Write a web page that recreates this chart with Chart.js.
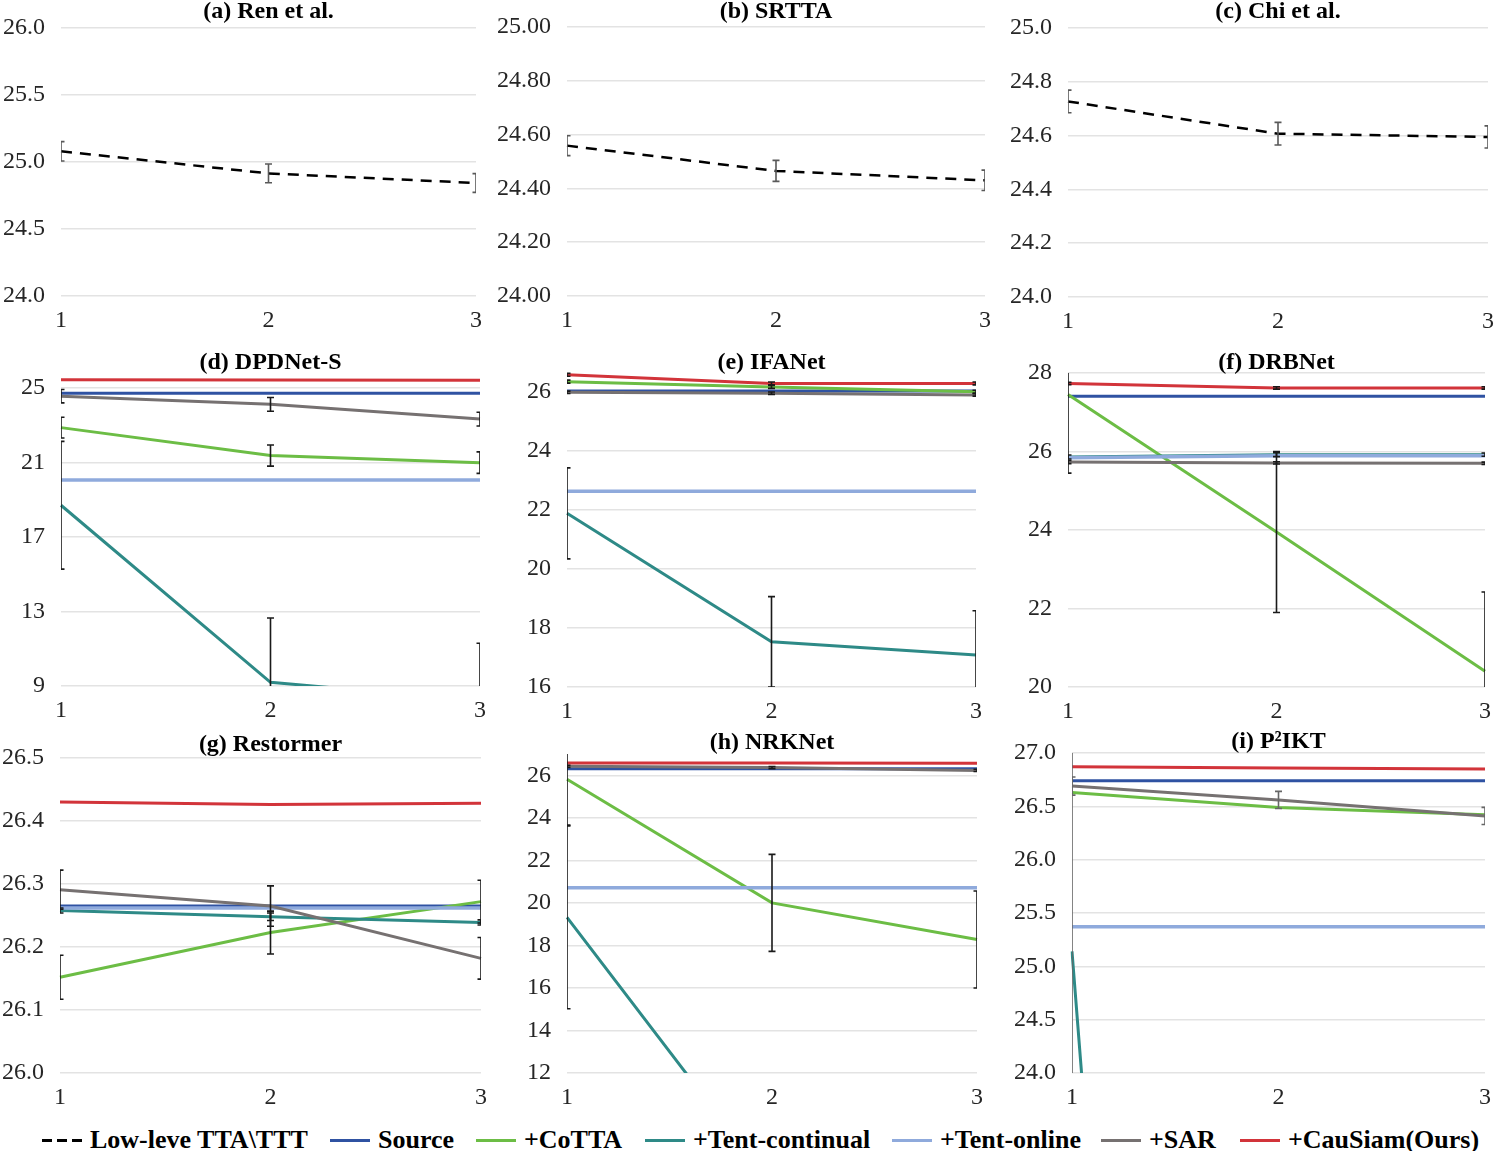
<!DOCTYPE html>
<html>
<head>
<meta charset="utf-8">
<script src="https://cdn.jsdelivr.net/npm/chart.js@4.4.1/dist/chart.umd.min.js"></script>
<style>
  body { margin: 0; background: #fff; width: 1494px; height: 1151px; position: relative; overflow: hidden;
         font-family: "Liberation Serif", "Times New Roman", serif; }
  canvas { position: absolute; }
  .key { position: absolute; top: 1127px; height: 26px; line-height: 26px; font-size: 26px; font-weight: bold;
         white-space: nowrap; color: #000; }
  .swatch { position: absolute; top: 1139px; width: 40px; height: 3px; }
</style>
</head>
<body>
<script>
const steps = ['1', '2', '3'];

// (a)-(c) low-level TTA\TTT methods: mean and error over the 3 rounds
const renMean = [25.08, 24.915, 24.843];
const renErr = [0.072, 0.07, 0.07];
const srttaMean = [24.559, 24.465, 24.43];
const srttaErr = [0.037, 0.039, 0.038];
const chiMean = [24.727, 24.607, 24.595];
const chiErr = [0.042, 0.042, 0.041];

// backbone panels, one row per series (same order as seriesNames)
const seriesNames = ['Source', '+CoTTA', '+Tent-continual', '+Tent-online', '+SAR', '+CauSiam(Ours)'];
const seriesColors = ['#2F52A2', '#6CBD45', '#2E8A87', '#8FAADC', '#767171', '#D2343A'];

const dpdnetMean = [
  [24.73, 24.73, 24.73],
  [22.88, 21.38, 21.0],
  [18.71, 9.2, 8.2],
  [20.07, 20.07, 20.07],
  [24.57, 24.13, 23.34],
  [25.45, 25.44, 25.43]
];
const dpdnetErr = [[0, 0, 0], [0.56, 0.57, 0.58], [3.43, 3.45, 3.1], [0, 0, 0], [0.36, 0.37, 0.37], [0, 0, 0]];

const ifanetMean = [
  [26.02, 26.02, 26.02],
  [26.34, 26.16, 26.0],
  [21.88, 17.53, 17.08],
  [22.63, 22.63, 22.63],
  [25.98, 25.95, 25.89],
  [26.57, 26.28, 26.28]
];
const ifanetErr = [[0, 0, 0], [0.05, 0.05, 0.05], [1.54, 1.53, 1.5], [0, 0, 0], [0.04, 0.04, 0.04], [0.05, 0.05, 0.05]];

const drbnetMean = [
  [27.41, 27.41, 27.41],
  [27.45, 23.95, 20.4],
  [25.86, 25.92, 25.92],
  [25.84, 25.89, 25.89],
  [25.73, 25.71, 25.7],
  [27.73, 27.62, 27.62]
];
const drbnetErr = [[0, 0, 0], [2.0, 2.05, 2.02], [0.05, 0.05, 0.04], [0, 0, 0], [0.04, 0.03, 0.03], [0.03, 0.03, 0.03]];

const restormerMean = [
  [26.265, 26.265, 26.265],
  [26.152, 26.223, 26.272],
  [26.258, 26.248, 26.239],
  [26.262, 26.262, 26.262],
  [26.291, 26.265, 26.182],
  [26.43, 26.426, 26.428]
];
const restormerErr = [[0, 0, 0], [0.035, 0.034, 0.034], [0.004, 0.006, 0.004], [0, 0, 0], [0.031, 0.032, 0.033], [0, 0, 0]];

const nrknetMean = [
  [26.31, 26.31, 26.31],
  [25.81, 20.0, 18.28],
  [19.32, 6.7, 6.2],
  [20.71, 20.71, 20.71],
  [26.42, 26.36, 26.23],
  [26.58, 26.58, 26.57]
];
const nrknetErr = [[0, 0, 0], [2.15, 2.28, 2.28], [4.3, 0, 0], [0, 0, 0], [0.05, 0.05, 0.05], [0, 0, 0]];

const p2iktMean = [
  [26.74, 26.74, 26.74],
  [26.63, 26.49, 26.42],
  [25.14, 0.5, 0.3],
  [25.37, 25.37, 25.37],
  [26.69, 26.56, 26.41],
  [26.87, 26.86, 26.85]
];
const p2iktErr = [[0, 0, 0], [0, 0, 0], [3, 0, 0], [0, 0, 0], [0.085, 0.08, 0.08], [0, 0, 0]];

// y tick labels per panel
const ticksA = [24.0, 24.5, 25.0, 25.5, 26.0];
const ticksB = [24.0, 24.2, 24.4, 24.6, 24.8, 25.0];
const ticksC = [24.0, 24.2, 24.4, 24.6, 24.8, 25.0];
const ticksD = [9, 13, 17, 21, 25];
const ticksE = [16, 18, 20, 22, 24, 26];
const ticksF = [20, 22, 24, 26, 28];
const ticksG = [26.0, 26.1, 26.2, 26.3, 26.4, 26.5];
const ticksH = [12, 14, 16, 18, 20, 22, 24, 26];
const ticksI = [24.0, 24.5, 25.0, 25.5, 26.0, 26.5, 27.0];

const legendNames = ['Low-leve TTA\\TTT'].concat(seriesNames);

Chart.defaults.font.family = '"Liberation Serif", "Times New Roman", serif';

// draws mean +/- err bars with caps, clipped to the plot area like Excel does
const errorBars = {
  id: 'errorBars',
  afterDatasetsDraw(chart, args, opts) {
    const { ctx, chartArea: a, scales: { x, y } } = chart;
    ctx.save();
    ctx.beginPath();
    ctx.rect(a.left, a.top, a.width, a.height);
    ctx.clip();
    ctx.strokeStyle = opts.color;
    ctx.lineWidth = 1.6;
    chart.data.datasets.forEach(ds => {
      if (!ds.errors) return;
      ds.data.forEach((v, i) => {
        const e = ds.errors[i];
        if (!e) return;
        const px = x.getPixelForValue(i);
        const top = y.getPixelForValue(v + e);
        const bot = y.getPixelForValue(v - e);
        ctx.beginPath();
        ctx.moveTo(px, top); ctx.lineTo(px, bot);
        ctx.moveTo(px - 3.5, top); ctx.lineTo(px + 3.5, top);
        ctx.moveTo(px - 3.5, bot); ctx.lineTo(px + 3.5, bot);
        ctx.stroke();
      });
    });
    ctx.restore();
  }
};

function baselineSet(mean, err) {
  return [{ data: mean, errors: err, borderColor: '#000', borderWidth: 2.5, borderDash: [11, 8] }];
}

function backboneSets(mean, err) {
  return mean.map((m, i) => ({
    data: m,
    errors: err[i],
    borderColor: seriesColors[i],
    borderWidth: i === 3 ? 3.5 : 3,
    order: mean.length - i
  }));
}

// box: plot left, right, top, bottom, title centre y (page pixels)
const panels = [
  { title: '(a) Ren et al.', sets: baselineSet(renMean, renErr), ticks: ticksA, min: 24, max: 26, dec: 1, err: '#595959', box: [61, 476, 28, 296, 12] },
  { title: '(b) SRTTA', sets: baselineSet(srttaMean, srttaErr), ticks: ticksB, min: 24, max: 25, dec: 2, err: '#595959', box: [567, 985, 27, 296, 12] },
  { title: '(c) Chi et al.', sets: baselineSet(chiMean, chiErr), ticks: ticksC, min: 24, max: 25, dec: 1, err: '#595959', box: [1068, 1488, 28, 297, 12] },
  { title: '(d) DPDNet-S', sets: backboneSets(dpdnetMean, dpdnetErr), ticks: ticksD, min: 9, max: 25.6, dec: 0, err: '#1a1a1a', box: [61, 480, 377, 686, 363] },
  { title: '(e) IFANet', sets: backboneSets(ifanetMean, ifanetErr), ticks: ticksE, min: 16, max: 26.7, dec: 0, err: '#1a1a1a', box: [567, 976, 371, 687, 363] },
  { title: '(f) DRBNet', sets: backboneSets(drbnetMean, drbnetErr), ticks: ticksF, min: 20, max: 28, dec: 0, err: '#1a1a1a', box: [1068, 1485, 373, 687, 363] },
  { title: '(g) Restormer', sets: backboneSets(restormerMean, restormerErr), ticks: ticksG, min: 26, max: 26.5, dec: 1, err: '#1a1a1a', box: [60, 481, 758, 1073, 745] },
  { title: '(h) NRKNet', sets: backboneSets(nrknetMean, nrknetErr), ticks: ticksH, min: 12, max: 27, dec: 0, err: '#1a1a1a', box: [567, 977, 754, 1073, 743] },
  { title: '(i) P\u00B2IKT', sets: backboneSets(p2iktMean, p2iktErr), ticks: ticksI, min: 24, max: 27, dec: 1, err: '#666666', box: [1072, 1485, 753, 1073, 742] }
];

function drawPanel(p) {
  const [L, R, T, B, tY] = p.box;
  const left = L - 70, top = tY - 12;
  const cv = document.createElement('canvas');
  cv.width = R - L + 86;
  cv.height = B - top + 40;
  cv.style.left = left + 'px';
  cv.style.top = top + 'px';
  document.body.appendChild(cv);

  p.sets.forEach(s => { s.pointRadius = 0; s.tension = 0; s.fill = false; });

  new Chart(cv, {
    type: 'line',
    data: { labels: steps, datasets: p.sets },
    options: {
      responsive: false,
      animation: false,
      devicePixelRatio: 1,
      layout: { padding: { top: 4, right: 16, left: 0, bottom: 0 } },
      plugins: {
        legend: { display: false },
        tooltip: { enabled: false },
        title: {
          display: true, text: p.title, fullSize: false, color: '#000',
          font: { size: 24, weight: 'bold', lineHeight: '16px' },
          padding: { top: 0, bottom: T - tY - 8 }
        },
        errorBars: { color: p.err }
      },
      scales: {
        x: {
          type: 'category', offset: false,
          grid: { display: false, drawTicks: false },
          border: { display: false },
          ticks: { color: '#262626', font: { size: 24 }, padding: 10, maxRotation: 0, autoSkip: false },
          afterFit: s => { s.height = 40; s.paddingLeft = 0; s.paddingRight = 0; }
        },
        y: {
          min: p.min, max: p.max, bounds: 'data',
          grid: { color: '#e3e3e3', lineWidth: 1.5, drawTicks: false },
          border: { display: false },
          ticks: { color: '#262626', font: { size: 24 }, padding: 16, callback: v => Number(v).toFixed(p.dec) },
          afterBuildTicks: s => { s.ticks = p.ticks.map(v => ({ value: v })); },
          afterFit: s => { s.width = 70; s.paddingTop = 0; s.paddingBottom = 0; }
        }
      }
    },
    plugins: [errorBars]
  });
}

panels.forEach(drawPanel);

// legend row along the bottom
const keyX = [42, 330, 476, 645, 892, 1101, 1240];
const keyColors = ['#000'].concat(seriesColors);
legendNames.forEach((name, i) => {
  const sw = document.createElement('div');
  sw.className = 'swatch';
  sw.style.left = keyX[i] + 'px';
  sw.style.background = i === 0
    ? 'repeating-linear-gradient(90deg, #000 0 10px, transparent 10px 15px)'
    : keyColors[i];
  document.body.appendChild(sw);
  const tx = document.createElement('div');
  tx.className = 'key';
  tx.style.left = (keyX[i] + 48) + 'px';
  tx.textContent = name;
  document.body.appendChild(tx);
});
</script>
</body>
</html>
